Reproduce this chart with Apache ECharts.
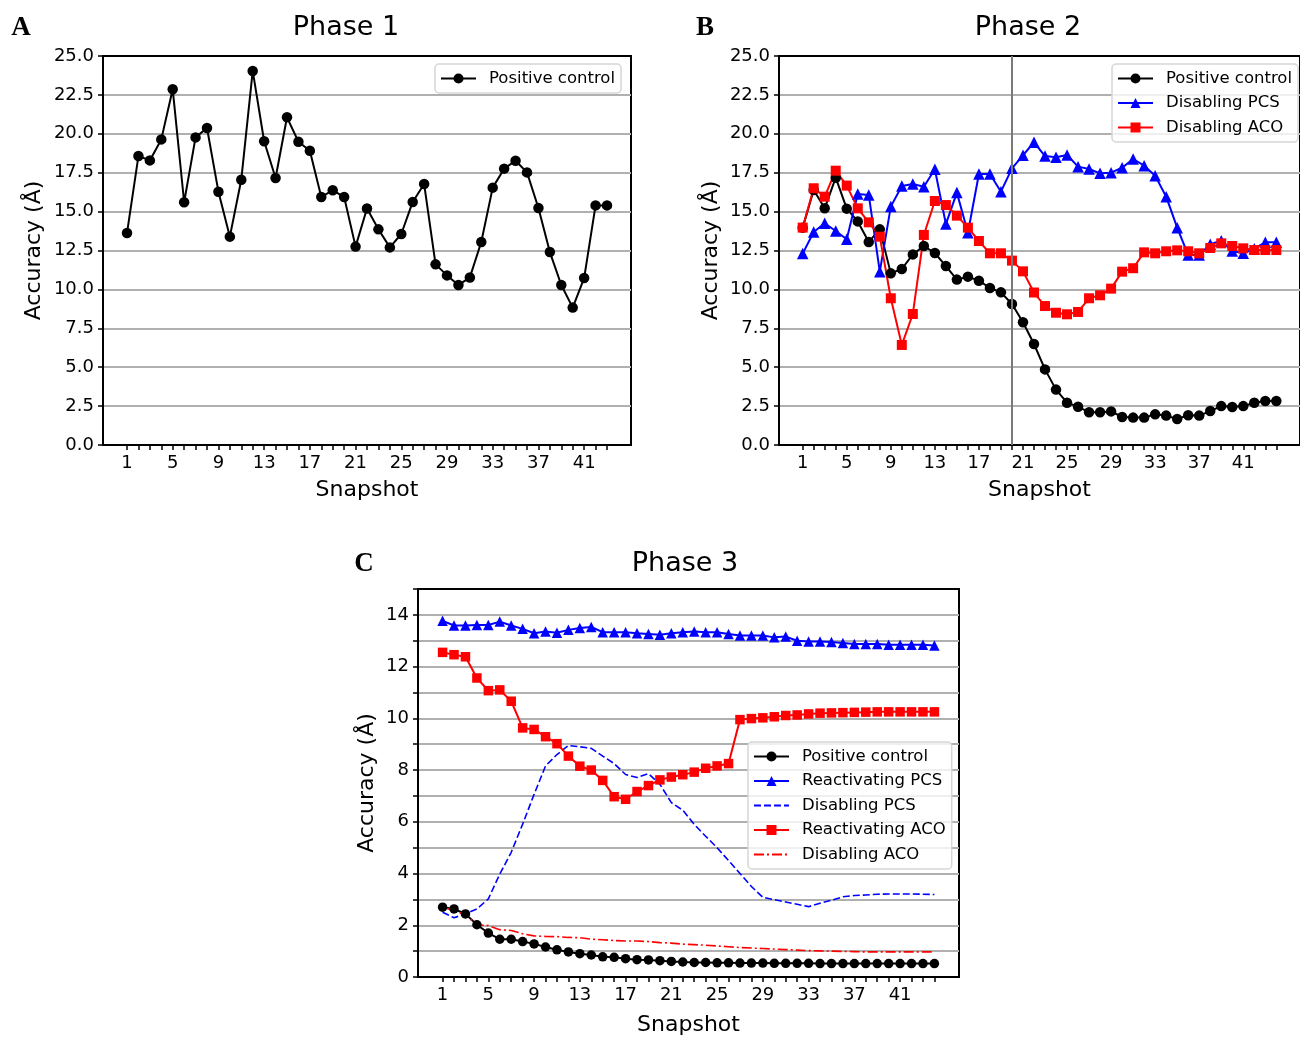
<!DOCTYPE html>
<html>
<head>
<meta charset="utf-8">
<title>Accuracy per snapshot, phases 1-3</title>
<script src="https://cdn.jsdelivr.net/npm/echarts@6/dist/echarts.min.js"></script>
<style>
  html, body { margin: 0; padding: 0; background: #fff; }
  #chart { width: 1300px; height: 1037px; }
</style>
</head>
<body>
<div id="chart"></div>
<script>
// labelled snapshot ticks (every 4th snapshot)
const xTickLabels = [1, 5, 9, 13, 17, 21, 25, 29, 33, 37, 41];

// Phase 1 - snapshots 1..43
const phase1Positive = [13.62, 18.57, 18.29, 19.64, 22.86, 15.6, 19.77, 20.37, 16.28, 13.39,
  17.05, 24.04, 19.52, 17.16, 21.06, 19.49, 18.91, 15.94, 16.37, 15.94,
  12.75, 15.2, 13.86, 12.7, 13.56, 15.62, 16.77, 11.61, 10.9, 10.28,
  10.77, 13.05, 16.54, 17.76, 18.27, 17.52, 15.23, 12.4, 10.28, 8.83,
  10.73, 15.4, 15.4];

// Phase 2 - snapshots 1..44
const phase2Positive = [13.97, 16.39, 15.21, 17.18, 15.19, 14.37, 13.05, 13.86, 11.03, 11.31,
  12.25, 12.79, 12.34, 11.5, 10.63, 10.82, 10.56, 10.09, 9.81, 9.06,
  7.89, 6.49, 4.86, 3.56, 2.72, 2.46, 2.1, 2.1, 2.16, 1.8,
  1.76, 1.76, 1.97, 1.89, 1.67, 1.91, 1.89, 2.18, 2.5, 2.44,
  2.5, 2.72, 2.83, 2.83];
const phase2DisablingPCS = [12.3, 13.69, 14.25, 13.75, 13.22, 16.13, 16.07, 11.14, 15.32, 16.65,
  16.77, 16.6, 17.72, 14.2, 16.22, 13.64, 17.42, 17.42, 16.28, 17.78,
  18.62, 19.45, 18.57, 18.49, 18.64, 17.89, 17.74, 17.46, 17.5, 17.82,
  18.38, 17.95, 17.31, 15.96, 13.97, 12.21, 12.21, 12.9, 13.13, 12.47,
  12.32, 12.62, 13.03, 13.03];
const phase2DisablingACO = [13.97, 16.5, 15.96, 17.63, 16.67, 15.21, 14.31, 13.39, 9.43, 6.43,
  8.42, 13.5, 15.68, 15.42, 14.74, 13.97, 13.11, 12.32, 12.32, 11.85,
  11.16, 9.8, 8.93, 8.5, 8.4, 8.55, 9.43, 9.62, 10.05, 11.14,
  11.36, 12.38, 12.32, 12.45, 12.51, 12.45, 12.32, 12.66, 12.96, 12.79,
  12.64, 12.53, 12.53, 12.53];
const phase2Switch = 20; // snapshot marked by the vertical line

// Phase 3 - snapshots 1..44
const phase3Positive = [2.7, 2.63, 2.44, 2.02, 1.7, 1.46, 1.46, 1.37, 1.28, 1.16,
  1.05, 0.97, 0.9, 0.85, 0.78, 0.76, 0.71, 0.67, 0.66, 0.63,
  0.6, 0.58, 0.56, 0.56, 0.55, 0.55, 0.54, 0.54, 0.54, 0.53,
  0.53, 0.53, 0.53, 0.52, 0.52, 0.52, 0.52, 0.52, 0.52, 0.52,
  0.52, 0.52, 0.52, 0.52];
const phase3ReactivatingPCS = [13.77, 13.59, 13.59, 13.61, 13.61, 13.74, 13.59, 13.46, 13.29, 13.36,
  13.31, 13.42, 13.49, 13.53, 13.33, 13.33, 13.33, 13.29, 13.26, 13.23,
  13.29, 13.33, 13.36, 13.33, 13.33, 13.26, 13.2, 13.2, 13.2, 13.13,
  13.16, 13.0, 12.97, 12.97, 12.95, 12.91, 12.87, 12.87, 12.87, 12.84,
  12.84, 12.84, 12.84, 12.82];
const phase3DisablingPCS = [2.5, 2.29, 2.44, 2.63, 3.02, 3.98, 4.82, 5.91, 7.06, 8.16,
  8.6, 8.95, 8.9, 8.84, 8.54, 8.25, 7.83, 7.71, 7.86, 7.45,
  6.74, 6.45, 5.9, 5.44, 5.0, 4.5, 4.0, 3.5, 3.08, 2.99,
  2.9, 2.81, 2.72, 2.85, 2.97, 3.1, 3.15, 3.17, 3.2, 3.21,
  3.21, 3.21, 3.2, 3.19];
const phase3ReactivatingACO = [12.55, 12.46, 12.38, 11.56, 11.07, 11.1, 10.66, 9.63, 9.57, 9.29,
  9.02, 8.54, 8.15, 8.0, 7.6, 6.97, 6.87, 7.17, 7.4, 7.62,
  7.73, 7.82, 7.92, 8.07, 8.16, 8.25, 9.95, 9.99, 10.02, 10.06,
  10.11, 10.13, 10.17, 10.2, 10.21, 10.22, 10.23, 10.24, 10.25, 10.25,
  10.25, 10.25, 10.25, 10.25];
const phase3DisablingACO = [2.7, 2.57, 2.4, 2.02, 1.99, 1.83, 1.8, 1.67, 1.59, 1.57,
  1.56, 1.53, 1.52, 1.46, 1.44, 1.41, 1.39, 1.39, 1.37, 1.33,
  1.31, 1.27, 1.25, 1.23, 1.2, 1.17, 1.14, 1.12, 1.1, 1.08,
  1.06, 1.04, 1.02, 1.01, 1.0, 0.99, 0.98, 0.97, 0.97, 0.97,
  0.97, 0.97, 0.97, 0.97];

const FONT = "'DejaVu Sans', sans-serif";
const GRID_COLOR = '#b0b0b0';

// turn a list of values into [snapshot, value] points
const toPoints = vals => vals.map((v, i) => [i + 1, v]);

function snapshotAxis(gridIndex, count, nameGap) {
  const ticks = [];
  for (let i = 1; i <= count; i++) ticks.push(i);
  const pad = (count - 1) * 0.05; // matplotlib-like margins
  return {
    type: 'value', gridIndex, min: 1 - pad, max: count + pad,
    name: 'Snapshot', nameLocation: 'middle', nameGap,
    nameTextStyle: { fontSize: 22, fontFamily: FONT, color: '#000' },
    axisLine: { show: true, onZero: false, lineStyle: { color: '#000', width: 2 } },
    axisTick: { show: true, customValues: ticks, length: 5, lineStyle: { color: '#000', width: 1.5 } },
    axisLabel: { customValues: xTickLabels, fontSize: 18, fontFamily: FONT, color: '#000', margin: 9 },
    splitLine: { show: false }
  };
}

function accuracyAxis(gridIndex, max, interval, nameGap, fmt) {
  return {
    type: 'value', gridIndex, min: 0, max, interval,
    name: 'Accuracy (Å)', nameLocation: 'middle', nameGap,
    nameTextStyle: { fontSize: 22, fontFamily: FONT, color: '#000' },
    axisLine: { show: true, onZero: false, lineStyle: { color: '#000', width: 2 } },
    axisTick: { show: true, length: 5, lineStyle: { color: '#000', width: 1.5 } },
    axisLabel: { formatter: fmt, fontSize: 18, fontFamily: FONT, color: '#000', margin: 9 },
    splitLine: { show: true, showMaxLine: false, lineStyle: { color: GRID_COLOR, width: 2 } }
  };
}

function lineSeries(name, idx, vals, color, symbol, extra) {
  return Object.assign({
    name, type: 'line', xAxisIndex: idx, yAxisIndex: idx,
    data: toPoints(vals),
    symbol, symbolSize: 10.5, showAllSymbol: true,
    lineStyle: { color, width: 2 },
    itemStyle: { color },
    emphasis: { disabled: true }
  }, extra || {});
}

function panelLegend(left, top, names) {
  return {
    left, top, orient: 'vertical',
    data: names,
    formatter: n => n.split('|')[1],
    itemWidth: 35, itemHeight: 12.5, itemGap: 7.5,
    padding: [6, 6, 6, 5],
    borderColor: '#d6d6d6', borderWidth: 1.5, borderRadius: 4,
    backgroundColor: 'rgba(255,255,255,0.8)',
    textStyle: { fontSize: 16.5, fontFamily: FONT, color: '#000', padding: [0, 0, 0, 8] },
    selectedMode: false
  };
}

// legend entry for a plain line (no marker)
const plainEntry = name => ({ name, itemStyle: { color: 'rgba(0,0,0,0)', borderWidth: 0, opacity: 0 } });

function label(text, x, y, font) {
  return { type: 'text', x, y, silent: true,
    style: { text, font, fill: '#000', align: 'center', verticalAlign: 'middle' } };
}

const fmtAB = v => v.toFixed(1);
const fmtC = v => (v % 2 === 0 ? String(v) : '');

const chart = echarts.init(document.getElementById('chart'));
chart.setOption({
  animation: false,
  backgroundColor: '#fff',
  grid: [
    { left: 103, top: 56, width: 528, height: 389, show: true, borderColor: '#000', borderWidth: 2 },
    { left: 779, top: 56, width: 528, height: 389, show: true, borderColor: '#000', borderWidth: 2 },
    { left: 418, top: 589, width: 541, height: 389, show: true, borderColor: '#000', borderWidth: 2 }
  ],
  xAxis: [
    snapshotAxis(0, phase1Positive.length, 34),
    snapshotAxis(1, phase2Positive.length, 34),
    snapshotAxis(2, phase3Positive.length, 37)
  ],
  yAxis: [
    accuracyAxis(0, 25, 2.5, 58, fmtAB),
    accuracyAxis(1, 25, 2.5, 57, fmtAB),
    accuracyAxis(2, 15, 1, 40, fmtC)
  ],
  legend: [
    panelLegend(435, 64, ['A|Positive control']),
    panelLegend(1112, 64, ['B|Positive control', 'B|Disabling PCS', 'B|Disabling ACO']),
    panelLegend(748, 742, ['C|Positive control', 'C|Reactivating PCS', plainEntry('C|Disabling PCS'),
      'C|Reactivating ACO', plainEntry('C|Disabling ACO')])
  ],
  graphic: [
    label('A', 21, 28, "bold 27px 'Liberation Serif', serif"),
    label('B', 705, 28, "bold 27px 'Liberation Serif', serif"),
    label('C', 364, 564, "bold 27px 'Liberation Serif', serif"),
    label('Phase 1', 346, 28, "27px 'DejaVu Sans', sans-serif"),
    label('Phase 2', 1028, 28, "27px 'DejaVu Sans', sans-serif"),
    label('Phase 3', 685, 564, "27px 'DejaVu Sans', sans-serif")
  ],
  series: [
    lineSeries('A|Positive control', 0, phase1Positive, '#000', 'circle'),

    lineSeries('B|Positive control', 1, phase2Positive, '#000', 'circle', {
      markLine: {
        silent: true, symbol: ['none', 'none'], label: { show: false },
        lineStyle: { color: '#7a7a7a', width: 2, type: 'solid' },
        data: [{ xAxis: phase2Switch }]
      }
    }),
    lineSeries('B|Disabling PCS', 1, phase2DisablingPCS, '#0000ff', 'triangle', { symbolSize: 11.5 }),
    lineSeries('B|Disabling ACO', 1, phase2DisablingACO, '#ff0000', 'rect', { symbolSize: 10 }),

    lineSeries('C|Positive control', 2, phase3Positive, '#000', 'circle', { symbolSize: 9.5 }),
    lineSeries('C|Reactivating PCS', 2, phase3ReactivatingPCS, '#0000ff', 'triangle', { symbolSize: 10.5 }),
    lineSeries('C|Disabling PCS', 2, phase3DisablingPCS, '#0000ff', 'none', {
      lineStyle: { color: '#0000ff', width: 1.6, type: [7, 3] }
    }),
    lineSeries('C|Reactivating ACO', 2, phase3ReactivatingACO, '#ff0000', 'rect', { symbolSize: 9.5 }),
    lineSeries('C|Disabling ACO', 2, phase3DisablingACO, '#ff0000', 'none', {
      lineStyle: { color: '#ff0000', width: 1.6, type: [10, 3, 2, 3] }
    })
  ]
});
</script>
</body>
</html>
